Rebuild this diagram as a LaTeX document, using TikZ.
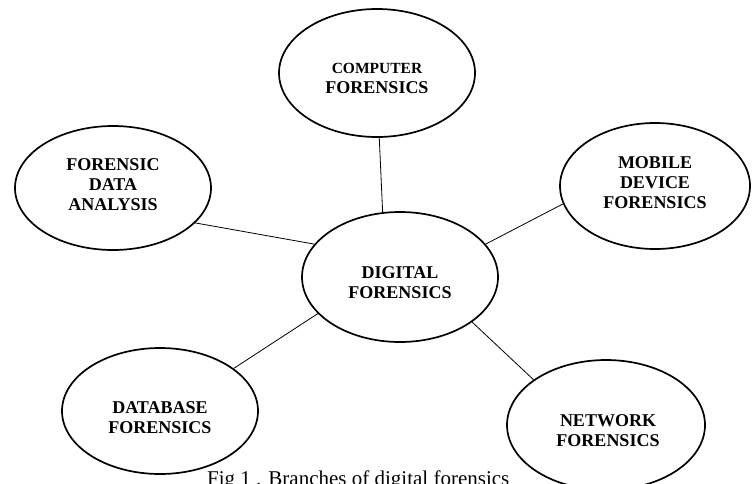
\documentclass[tikz,border=0pt]{standalone}
\usepackage{fontspec}
\setmainfont{Liberation Serif}
\usetikzlibrary{shapes.geometric}
\tikzset{
  branch/.style={ellipse, draw=black, line width=1.7pt, fill=white, inner sep=0pt},
  lbl/.style={font=\fontsize{18}{20}\selectfont\bfseries, align=center, inner sep=0pt},
  conn/.style={draw=black, line width=0.8pt},
  figcaption/.style={font=\fontsize{21}{24}\selectfont, inner sep=0pt, anchor=base west}
}
\begin{document}
\begin{tikzpicture}[x=1pt,y=-1pt]
\useasboundingbox (0,0) rectangle (754,483);
\clip (0,0) rectangle (754,483);
\fill[white] (0,0) rectangle (754,483);
% caption (partly cut at the bottom edge, partly hidden behind the network ellipse)
\node[figcaption] (caption) at (207,485) {Fig 1 . Branches of digital forensics};
% ellipses
\node[branch, minimum width=196pt, minimum height=128pt] (comp) at (377,73) {};
\node[branch, minimum width=196pt, minimum height=124pt] (fda) at (113,188) {};
\node[branch, minimum width=190pt, minimum height=126pt] (mob) at (655,186) {};
\node[branch, minimum width=196pt, minimum height=130pt] (dig) at (400,277) {};
\node[branch, minimum width=196pt, minimum height=126pt] (db) at (160,411) {};
\node[branch, minimum width=198pt, minimum height=130pt] (net) at (606,425) {};
% connectors
\draw[conn] (comp.-88) -- (dig.105);
\draw[conn] (fda.-23) -- (dig.159);
\draw[conn] (mob.-169) -- (dig.21);
\draw[conn] (db.30) -- (dig.-156);
\draw[conn] (dig.-32) -- (net.148);
% labels
\node[lbl] (tcomp) at (377,78) {{\fontsize{15.5}{20}\selectfont COMPUTER}\\FORENSICS};
\node[lbl] (tfda) at (113,185) {FORENSIC\\DATA\\ANALYSIS};
\node[lbl] (tmob) at (655,183) {MOBILE\\DEVICE\\FORENSICS};
\node[lbl] (tdig) at (400,283) {DIGITAL\\FORENSICS};
\node[lbl] (tdb) at (160,418) {DATABASE\\FORENSICS};
\node[lbl] (tnet) at (608,431) {NETWORK\\FORENSICS};
\end{tikzpicture}
\end{document}
